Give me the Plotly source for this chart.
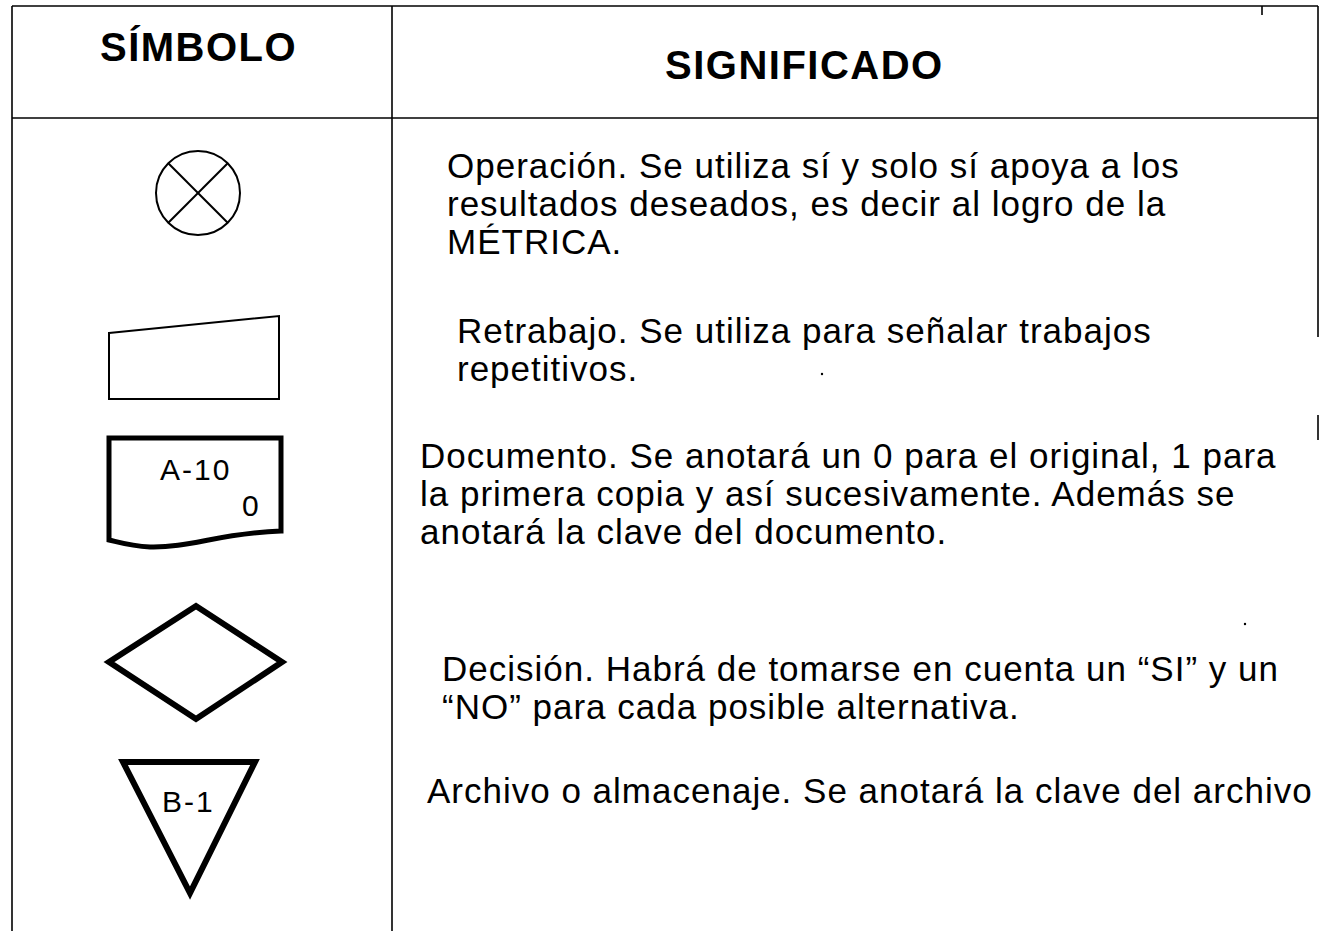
import plotly.graph_objects as go

W, H = 1320, 931
FONT = "Liberation Sans, Arial, sans-serif"

# ---- content ----
headers = ["SÍMBOLO", "SIGNIFICADO"]
header_x = [98, 663]
header_y = [47, 65]

meaning_lines = [
    ["Operación. Se utiliza sí y solo sí apoya a los",
     "resultados deseados, es decir al logro de la",
     "MÉTRICA."],
    ["Retrabajo. Se utiliza para señalar trabajos",
     "repetitivos."],
    ["Documento. Se anotará un 0 para el original, 1 para",
     "la primera copia y así sucesivamente. Además se",
     "anotará la clave del documento."],
    ["Decisión. Habrá de tomarse en cuenta un “SI” y un",
     "“NO” para cada posible alternativa."],
    ["Archivo o almacenaje. Se anotará la clave del archivo"],
]
meaning_x = [445, 455, 418, 440, 425]
meaning_y0 = [165, 330, 455, 668, 790]
LINE_STEP = 38

symbol_labels = ["A-10", "0", "B-1"]
symbol_label_x = [158, 240, 160]
symbol_label_y = [469, 505, 801]

# ---- geometry of the table frame ----
frame_lines = [
    (12, 6, 1318, 6),
    (12, 118, 1318, 118),
    (12, 6, 12, 931),
    (392, 6, 392, 931),
    (1318, 6, 1318, 337),
    (1318, 415, 1318, 440),
    (1262, 6, 1262, 15),
]

fig = go.Figure()
shapes = []
for x0, y0, x1, y1 in frame_lines:
    shapes.append(dict(type="line", x0=x0, y0=y0, x1=x1, y1=y1,
                       line=dict(color="black", width=1.6)))

# operation circle with X
cx, cy, r = 198, 193, 42
shapes.append(dict(type="circle", x0=cx - r, y0=cy - r, x1=cx + r, y1=cy + r,
                   line=dict(color="black", width=2)))
d = r * 0.7071
shapes.append(dict(type="line", x0=cx - d, y0=cy - d, x1=cx + d, y1=cy + d,
                   line=dict(color="black", width=2)))
shapes.append(dict(type="line", x0=cx + d, y0=cy - d, x1=cx - d, y1=cy + d,
                   line=dict(color="black", width=2)))

# rework trapezoid
shapes.append(dict(type="path", path="M 109 333 L 279 316 L 279 399 L 109 399 Z",
                   line=dict(color="black", width=2)))

# document
shapes.append(dict(type="path",
                   path="M 109 438 L 281 438 L 281 531 C 220 533, 190 548, 150 547 C 130 546, 118 542, 109 540 Z",
                   line=dict(color="black", width=5)))

# decision diamond
shapes.append(dict(type="path", path="M 109 662 L 196 606 L 282 662 L 196 719 Z",
                   line=dict(color="black", width=6)))

# storage triangle
shapes.append(dict(type="path", path="M 123 762 L 255 762 L 190 893 Z",
                   line=dict(color="black", width=6)))

# small specks
for sx, sy in [(822, 374), (1245, 624)]:
    shapes.append(dict(type="circle", x0=sx - 1.2, y0=sy - 1.2, x1=sx + 1.2, y1=sy + 1.2,
                       fillcolor="black", line=dict(width=0)))

annotations = []
for t, x, y in zip(headers, header_x, header_y):
    annotations.append(dict(x=x, y=y, text="<b>" + t + "</b>", showarrow=False,
                            xanchor="left", yanchor="middle", align="left",
                            font=dict(family=FONT, size=40, color="black")))

for lines, x, y0 in zip(meaning_lines, meaning_x, meaning_y0):
    for i, ln in enumerate(lines):
        annotations.append(dict(x=x, y=y0 + i * LINE_STEP, text=ln, showarrow=False,
                                xanchor="left", yanchor="middle", align="left",
                                font=dict(family=FONT, size=35, color="black")))

for t, x, y in zip(symbol_labels, symbol_label_x, symbol_label_y):
    annotations.append(dict(x=x, y=y, text=t, showarrow=False,
                            xanchor="left", yanchor="middle", align="left",
                            font=dict(family=FONT, size=30, color="black")))

fig.update_layout(
    width=W, height=H,
    margin=dict(l=0, r=0, t=0, b=0),
    paper_bgcolor="white", plot_bgcolor="white",
    xaxis=dict(range=[0, W], visible=False, fixedrange=True),
    yaxis=dict(range=[H, 0], visible=False, fixedrange=True),
    shapes=shapes, annotations=annotations, showlegend=False,
)

post = """
document.body.style.margin = '0';
document.body.style.overflow = 'hidden';
document.querySelectorAll('.annotation-text').forEach(function (e) {
  var fs = parseFloat(e.style.fontSize);
  var sp = fs >= 40 ? 1.5 : (fs >= 35 ? 1.0 : 2);
  e.style.letterSpacing = sp + 'px';
});
"""
fig.write_html("out.html", config={"displayModeBar": False}, post_script=post)
